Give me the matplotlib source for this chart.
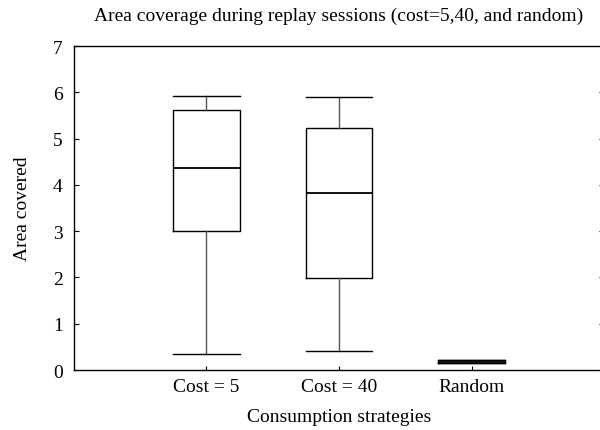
import matplotlib
matplotlib.use('Agg')
import matplotlib.pyplot as plt

plt.rcParams['font.family'] = ['Liberation Serif', 'DejaVu Serif']

# box statistics
labels = ['Cost = 5', 'Cost = 40', 'Random']
whislo = [0.34, 0.40, 0.16]
q1 = [3.00, 1.98, 0.16]
med = [4.37, 3.82, 0.18]
q3 = [5.62, 5.22, 0.21]
whishi = [5.92, 5.89, 0.21]


stats = []
for i in range(len(labels)):
	stats.append({'label': labels[i], 'whislo': whislo[i], 'q1': q1[i], 'med': med[i],
		'q3': q3[i], 'whishi': whishi[i], 'fliers': []})

fig = plt.figure(figsize = (6, 4.31), dpi = 100)
ax = fig.add_axes([0.1233, 0.1392, 0.8834, 0.7517])

ax.bxp(stats, positions = [1, 2, 3], widths = 0.5, showfliers = False,
	boxprops = dict(color = 'black', linewidth = 1),
	medianprops = dict(color = 'black', linewidth = 1.3),
	whiskerprops = dict(color = '#555555', linewidth = 1),
	capprops = dict(color = 'black', linewidth = 1),
	capwidths = 0.5)

ax.set_xlim(0, 4)
ax.set_ylim(0, 7)
ax.set_xticks([1, 2, 3])
ax.set_xticklabels(labels)
ax.set_yticks(range(0, 8))

ax.tick_params(axis = 'y', direction = 'in', left = True, right = True, length = 3.5, labelsize = 14, pad = 8)
ax.tick_params(axis = 'x', direction = 'in', top = False, length = 3, labelsize = 14, pad = 6)
for s in ax.spines.values():
	s.set_linewidth(1)

ax.set_title('Area coverage during replay sessions (cost=5,40, and random)', fontsize = 14, pad = 19)
ax.set_ylabel('Area covered', fontsize = 14, labelpad = 16)
ax.set_xlabel('Consumption strategies', fontsize = 14, labelpad = 9)

fig.savefig('out.png', dpi = 100)
